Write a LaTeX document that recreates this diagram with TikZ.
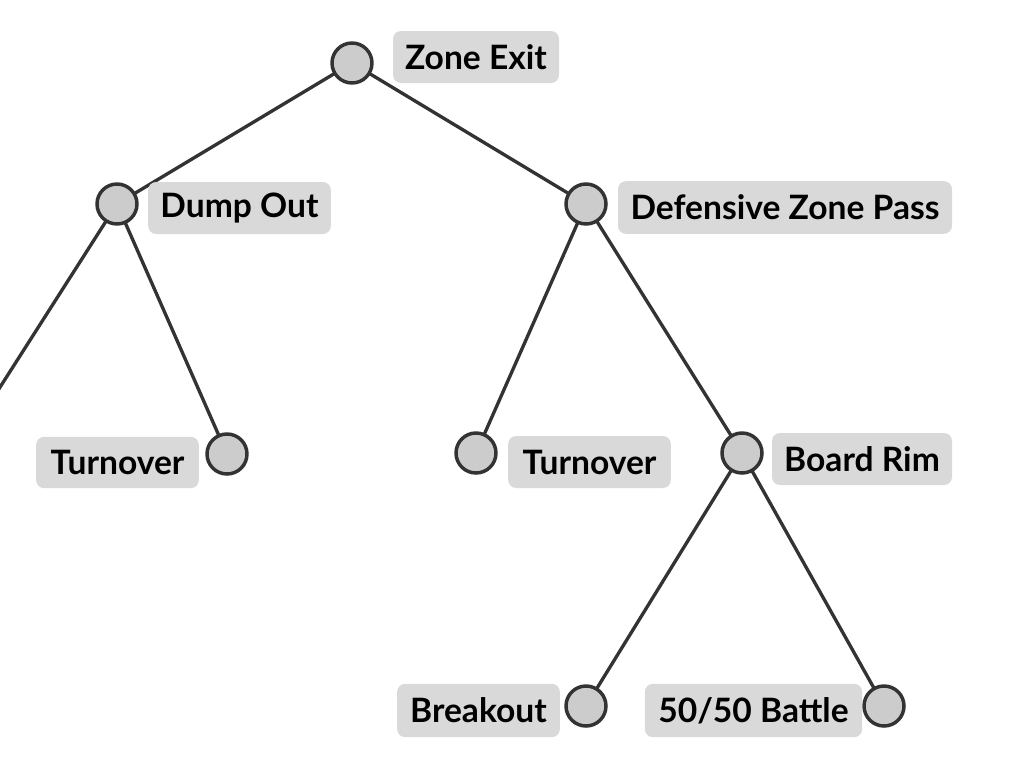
\documentclass[tikz,border=0pt]{standalone}
\usepackage{fontspec}
\setmainfont{Lato}
\usetikzlibrary{backgrounds}
\begin{document}
\begin{tikzpicture}[x=0.75pt,y=-0.75pt,
  leaf/.style={circle,draw=black!80,fill=black!20,line width=2.6pt,minimum size=30pt,inner sep=0pt},
  tag/.style={rounded corners=6pt,fill=black!15,inner sep=0pt,font=\fontsize{25.2}{29}\selectfont\bfseries,text=black},
  edge/.style={draw=black!80,line width=2.5pt}]
\useasboundingbox (0,0) rectangle (1024,768);
\clip (0,0) rectangle (1024,768);
% circles
\node[leaf] (root) at (352,63) {};
\node[leaf] (dump) at (117,204) {};
\node[leaf] (tl) at (227,454) {};
\node[leaf] (dzp) at (586,204) {};
\node[leaf] (tm) at (476,453) {};
\node[leaf] (br) at (742,453) {};
\node[leaf] (bo) at (586,706) {};
\node[leaf] (fb) at (884,706) {};
\coordinate (off) at (-12,406);
% connectors
\begin{pgfonlayer}{background}
\draw[edge] (root.center) -- (dump.center);
\draw[edge] (root.center) -- (dzp.center);
\draw[edge] (dump.center) -- (off);
\draw[edge] (dump.center) -- (tl.center);
\draw[edge] (dzp.center) -- (tm.center);
\draw[edge] (dzp.center) -- (br.center);
\draw[edge] (br.center) -- (bo.center);
\draw[edge] (br.center) -- (fb.center);
\end{pgfonlayer}
% labels
\node[tag,minimum width=124.5pt,minimum height=39pt] (lroot) at (476,57) {Zone Exit};
\node[tag,minimum width=137pt,minimum height=39pt] (ldump) at (239.5,208) {Dump Out};
\node[tag,minimum width=122pt,minimum height=38.5pt] (ltl) at (117.5,462.5) {Turnover};
\node[tag,minimum width=250.5pt,minimum height=39.5pt] (ldzp) at (785,207.5) {Defensive Zone Pass};
\node[tag,minimum width=122pt,minimum height=39pt] (ltm) at (589.5,462) {Turnover};
\node[tag,minimum width=135pt,minimum height=39pt] (lbr) at (862,459) {Board Rim};
\node[tag,minimum width=122pt,minimum height=40pt] (lbo) at (478.5,710.5) {Breakout};
\node[tag,minimum width=163pt,minimum height=40pt] (lfb) at (753.5,710.5) {50/50 Battle};
\end{tikzpicture}
\end{document}
